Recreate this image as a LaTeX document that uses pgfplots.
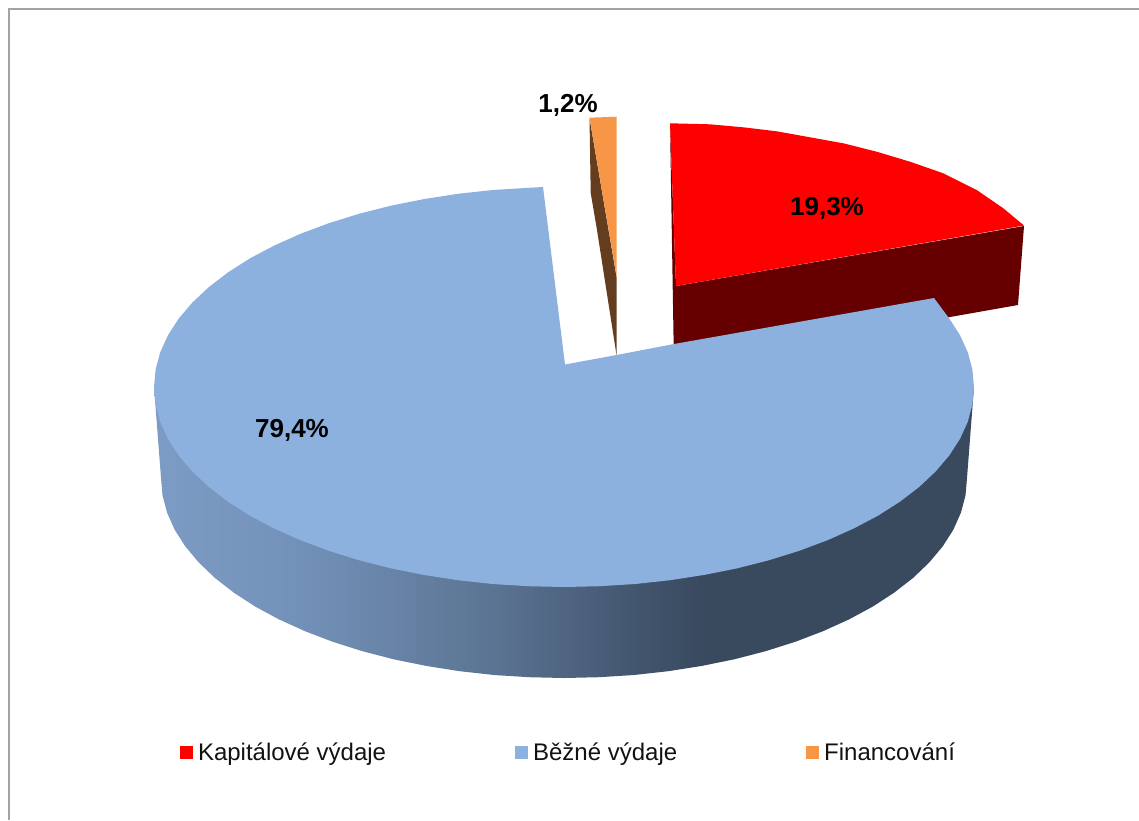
\documentclass[border=0pt]{standalone}
\usepackage{fontspec}
\setmainfont{Liberation Sans}
\usepackage{pgfplots}
\pgfplotsset{compat=1.18}
\definecolor{cred}{HTML}{FF0000}
\definecolor{cdred}{HTML}{660000}
\definecolor{cblue}{HTML}{8DB1DE}
\definecolor{corange}{HTML}{F79646}
\definecolor{cbrown}{HTML}{643D1E}
\definecolor{cframe}{HTML}{A3A3A3}
\pgfdeclarehorizontalshading{sideshade}{100bp}{
 rgb(0bp)=(0.490,0.612,0.773);
 rgb(25bp)=(0.490,0.612,0.773);
 rgb(33.9bp)=(0.451,0.569,0.722);
 rgb(46bp)=(0.353,0.451,0.569);
 rgb(54.6bp)=(0.259,0.333,0.431);
 rgb(58.3bp)=(0.224,0.290,0.373);
 rgb(100bp)=(0.224,0.290,0.373)}
\begin{document}
\begin{tikzpicture}
\begin{axis}[
  width=1139pt, height=820pt, scale only axis,
  xmin=0, xmax=1139, ymin=0, ymax=820, y dir=reverse,
  axis lines=none, ticks=none, clip=true,
  legend columns=3,
  legend style={draw=none, fill=none, at={(axis cs:180,752.5)}, anchor=west, inner sep=0pt, outer sep=0pt,
    font=\fontsize{24}{28}\selectfont, text=black!93,
    nodes={inner sep=0pt, outer sep=0pt},
    /tikz/every odd column/.append style={column sep=5pt},
    /tikz/every even column/.append style={column sep=129pt}},
  legend cell align=left,
  legend image code/.code={\fill[#1] (0pt,-6.5pt) rectangle (13pt,6.5pt);},
]
% full page extent
\path (axis cs:0,0) rectangle (axis cs:1139,820);
% frame
\addplot[forget plot, cframe, line width=2pt] coordinates {(8.5,820) (8.5,9) (1139,9)};
% red side
\addplot[forget plot, draw=none, fill=cdred] coordinates {(670,123) (674,366) (950,317) (1018,305) (1024,226) (676,286)} -- cycle;
% red top
\addplot[draw=none, fill=cred] coordinates {(670,123.3) (710,124.3) (743.3,127.3) (776.7,131.3) (810,137.3) (843.3,143.3) (876.7,151.7) (910,161.7) (943.3,173.3) (976.7,190) (1003.3,208.3) (1024,225.5) (676,286)} -- cycle;
\addlegendentry{Kapitálové výdaje}
% blue side
\addplot[forget plot, draw=none, shading=sideshade] coordinates {(974,387) (967,478) (965.5,495.4) (960.9,512.7) (953.3,529.8) (942.7,546.4) (929.2,562.5) (913,578) (894.1,592.7) (872.7,606.6) (849,619.4) (823,631.2) (795.2,641.8) (765.5,651.2) (734.3,659.3) (701.8,665.9) (668.3,671.2) (634,675) (599.1,677.2) (564,678) (528.9,677.2) (494,675) (459.7,671.2) (426.2,665.9) (393.7,659.3) (362.5,651.2) (332.8,641.8) (305,631.2) (279,619.4) (255.3,606.6) (233.9,592.7) (215,578) (198.8,562.5) (185.3,546.4) (174.7,529.8) (167.1,512.7) (162.5,495.4) (161,478) (154,387)} -- cycle;
% blue top
\addplot[draw=none, fill=cblue] coordinates {(934,298) (949.3,318.6) (960,335.2) (967.8,352.3) (972.4,369.6) (974,387) (972.4,404.4) (967.8,421.7) (960,438.8) (949.3,455.4) (935.6,471.5) (919.1,487) (899.9,501.7) (878.1,515.6) (853.9,528.4) (827.5,540.2) (799.2,550.8) (769,560.2) (737.3,568.3) (704.2,574.9) (670.1,580.2) (635.2,584) (599.7,586.2) (564,587) (528.3,586.2) (492.8,584) (457.9,580.2) (423.8,574.9) (390.7,568.3) (359,560.2) (328.8,550.8) (300.5,540.2) (274.1,528.4) (249.9,515.6) (228.1,501.7) (208.9,487) (192.4,471.5) (178.7,455.4) (168,438.8) (160.2,421.7) (155.6,404.4) (154,387) (155.6,369.6) (160.2,352.3) (168,335.2) (178.7,318.6) (192.4,302.5) (208.9,287) (228.1,272.3) (249.9,258.4) (274.1,245.6) (300.5,233.8) (328.8,223.2) (359,213.8) (390.7,205.7) (423.8,199.1) (457.9,193.8) (492.8,190) (528.3,187.8) (543,187) (565,364.5) (616.5,355) (674,344)} -- cycle;
\addlegendentry{Běžné výdaje}
% orange side
\addplot[forget plot, draw=none, fill=cbrown] coordinates {(589.5,118) (590.7,193) (597,230) (616.5,355) (616.5,277)} -- cycle;
% orange top
\addplot[draw=none, fill=corange] coordinates {(589.5,117.7) (616.7,116.7) (616.7,277)} -- cycle;
\addlegendentry{Financování}
% labels
\node[anchor=base, font=\fontsize{26}{30}\selectfont\bfseries] at (axis cs:568,112) {1,2\%};
\node[anchor=base, font=\fontsize{26}{30}\selectfont\bfseries] at (axis cs:827,215) {19,3\%};
\node[anchor=base, font=\fontsize{26}{30}\selectfont\bfseries] at (axis cs:292,437) {79,4\%};
\end{axis}
\end{tikzpicture}
\end{document}
